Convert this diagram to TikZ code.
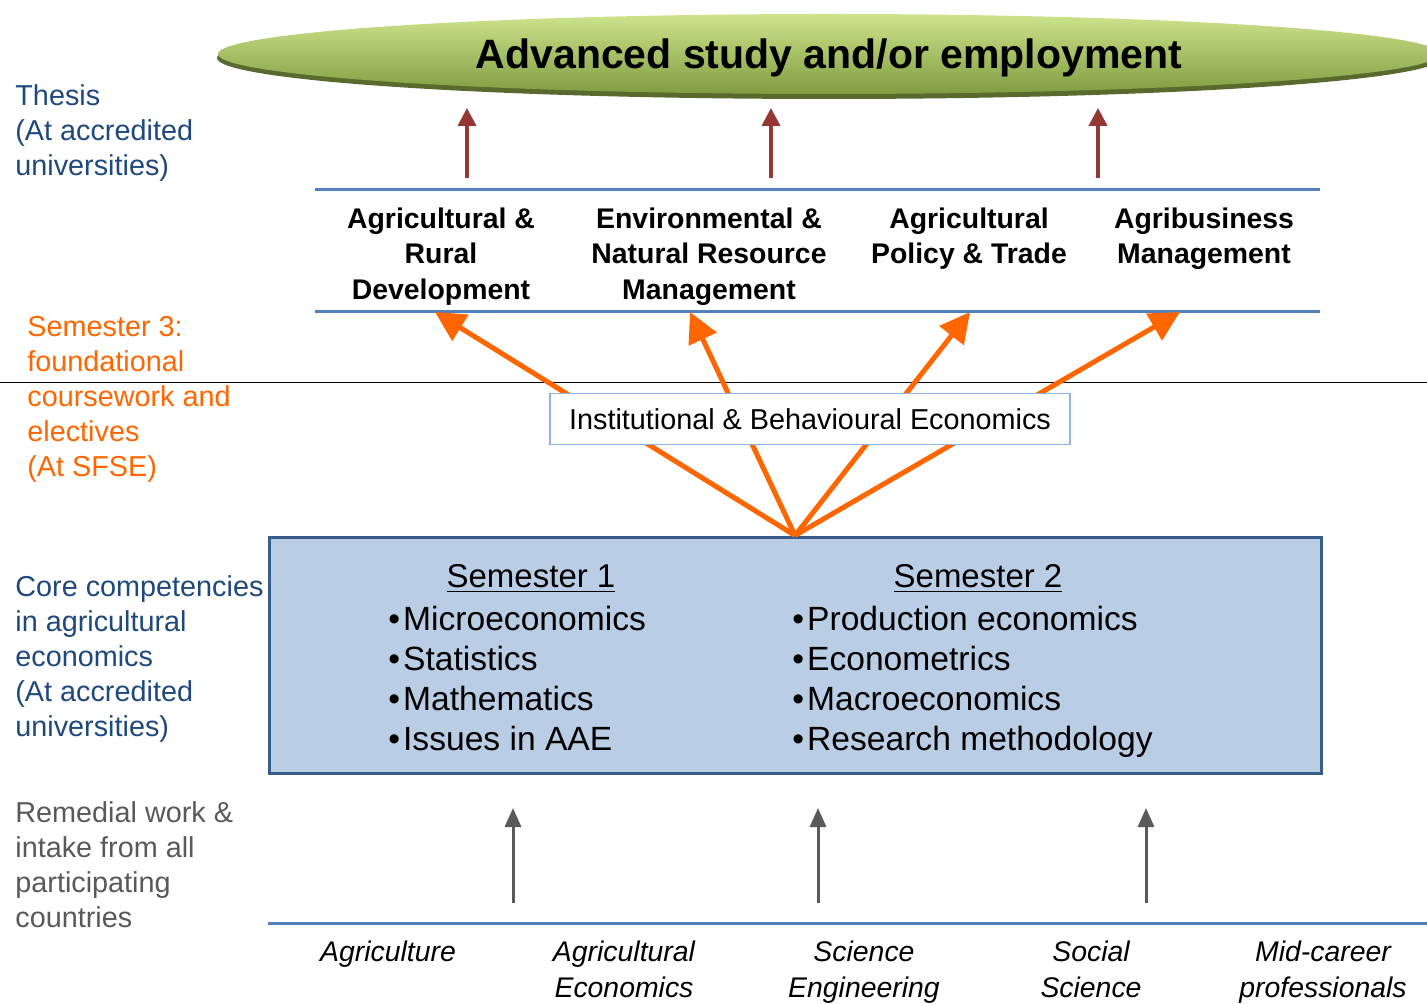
\documentclass[tikz,border=0pt]{standalone}
\usepackage{fontspec}
\setmainfont{Liberation Sans}
\usetikzlibrary{arrows.meta,shapes.geometric}
\definecolor{thesisblue}{RGB}{31,73,125}
\definecolor{semorange}{RGB}{255,102,0}
\definecolor{remgray}{RGB}{89,89,89}
\definecolor{lineblue}{RGB}{79,129,189}
\definecolor{corefill}{RGB}{185,205,229}
\definecolor{coreedge}{RGB}{56,93,138}
\definecolor{instedge}{RGB}{142,180,227}
\definecolor{arrowred}{RGB}{149,55,53}
\definecolor{ellLight}{RGB}{205,228,140}
\definecolor{ellMid}{RGB}{168,200,98}
\definecolor{ellLow}{RGB}{128,156,64}
\definecolor{ellShadow}{RGB}{88,106,46}

\begin{document}
\begin{tikzpicture}[x=0.5pt,y=-0.5pt,
  lbl/.style={anchor=north west, align=left, inner sep=0pt, font=\fontsize{14.4}{17.5}\selectfont},
  track/.style={anchor=north, align=center, inner sep=0pt, font=\bfseries\fontsize{14.2}{17.75}\selectfont},
  intake/.style={anchor=north, align=center, inner sep=0pt, font=\itshape\fontsize{14.2}{18}\selectfont},
  sem/.style={anchor=north, inner sep=0pt, font=\fontsize{16.5}{20}\selectfont},
  courses/.style={anchor=north west, align=left, inner sep=0pt, font=\fontsize{16.8}{20}\selectfont},
  bluerule/.style={draw=lineblue, line width=1.5pt},
  uparrow/.style={draw=arrowred, line width=2pt, -{Triangle[length=9pt,width=9pt]}},
  feed/.style={draw=semorange, line width=2.5pt, -{Triangle[length=15pt,width=15pt]}},
  intakearrow/.style={draw=remgray, line width=1.5pt, -{Triangle[length=9.5pt,width=8pt]}},
]
\useasboundingbox (0,0) rectangle (1427,1004);

% goal ellipse
\fill[ellShadow] (829,58) ellipse [x radius=612, y radius=41];
\node[ellipse, minimum width=611pt, minimum height=40pt, inner sep=0pt, top color=ellLight, middle color=ellMid, bottom color=ellLow, text depth=0pt, font=\bfseries\fontsize{20.5}{24}\selectfont] (goal) at (829,54) {Advanced study and/or employment};

% left labels
\node[lbl, text=thesisblue] (thesis) at (15,84.5) {Thesis\\(At accredited\\universities)};
\node[lbl, text=semorange] (sem3) at (27,315.5) {Semester 3:\\foundational\\coursework and\\electives\\(At SFSE)};
\node[lbl, text=thesisblue] (corelbl) at (15,575.5) {Core competencies\\in agricultural\\economics\\(At accredited\\universities)};
\node[lbl, text=remgray] (remedial) at (15,801.5) {Remedial work \&\\intake from all\\participating\\countries};

% thesis tracks
\draw[bluerule] (315,190) -- (1320,190);
\draw[bluerule] (315,312) -- (1320,312);
\node[track] (col1) at (441,207.5) {Agricultural \&\\Rural\\Development};
\node[track] (col2) at (709,207.5) {Environmental \&\\Natural Resource\\Management};
\node[track] (col3) at (969,207.5) {Agricultural\\Policy \& Trade};
\node[track] (col4) at (1204,207.5) {Agribusiness\\Management};

\foreach \x [count=\i] in {467,771,1098} {
  \coordinate (up\i) at (\x,178);
  \coordinate (upend\i) at (\x,108);
  \draw[uparrow] (up\i) -- (upend\i);
}

\draw[line width=0.5pt] (0,383) -- (1427,383);

% core semesters
\node[draw=coreedge, line width=1.5pt, fill=corefill, minimum width=526pt, minimum height=118pt, inner sep=0pt] (core) at (795,655) {};
\node[sem] (sem1) at (531,564.5) {\underline{Semester 1}};
\node[sem] (sem2) at (978,564.5) {\underline{Semester 2}};
\node[courses] (list1) at (388,605.5) {\textbullet\hspace{1.5pt}Microeconomics\\\textbullet\hspace{1.5pt}Statistics\\\textbullet\hspace{1.5pt}Mathematics\\\textbullet\hspace{1.5pt}Issues in AAE};
\node[courses] (list2) at (792,605.5) {\textbullet\hspace{1.5pt}Production economics\\\textbullet\hspace{1.5pt}Econometrics\\\textbullet\hspace{1.5pt}Macroeconomics\\\textbullet\hspace{1.5pt}Research methodology};

% semester 3
\coordinate (tip1) at (435,312);
\coordinate (tip2) at (690,312);
\coordinate (tip3) at (970,312);
\coordinate (tip4) at (1180,312);
\foreach \t in {tip1,tip2,tip3,tip4}
  \draw[feed] (core.north) -- (\t);
\node[draw=instedge, line width=0.75pt, fill=white, minimum width=260pt, minimum height=25.5pt, inner sep=0pt, font=\fontsize{14.4}{17.5}\selectfont] (inst) at (810,419) {Institutional \& Behavioural Economics};

% intake
\draw[bluerule] (268,923) -- (1427,923);
\foreach \x [count=\i] in {513,818,1146} {
  \coordinate (in\i) at (\x,903);
  \coordinate (inend\i) at (\x,808);
  \draw[intakearrow] (in\i) -- (inend\i);
}
\node[intake] (agri) at (388,940.5) {Agriculture};
\node[intake] (agecon) at (624,940.5) {Agricultural\\Economics};
\node[intake] (scieng) at (864,940.5) {Science\\Engineering};
\node[intake] (social) at (1091,940.5) {Social\\Science};
\node[intake] (midcar) at (1323,940.5) {Mid-career\\professionals};
\end{tikzpicture}
\end{document}
